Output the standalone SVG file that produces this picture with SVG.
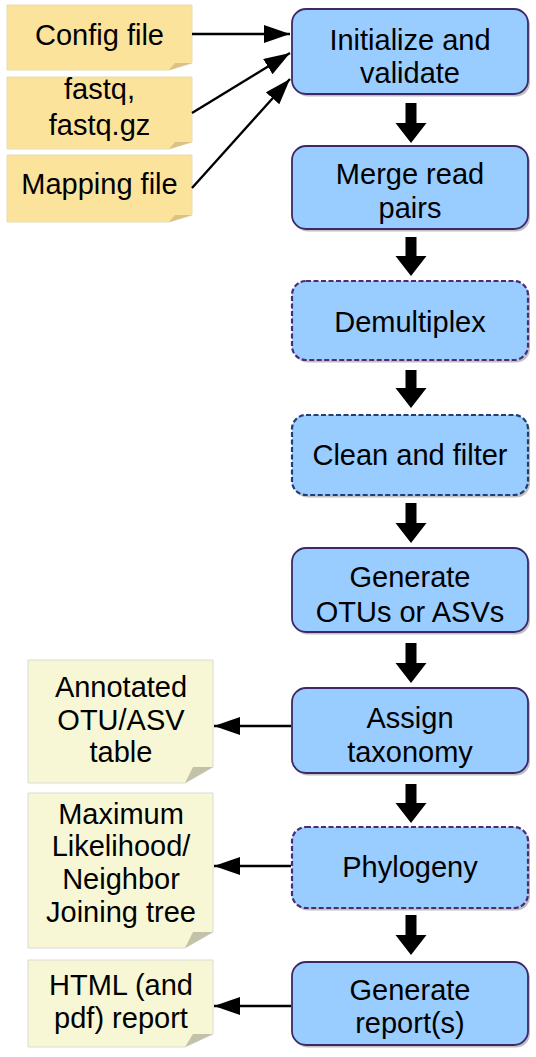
<svg xmlns="http://www.w3.org/2000/svg" width="536" height="1057" viewBox="0 0 536 1057">
<defs>
<marker id="ah" markerUnits="userSpaceOnUse" markerWidth="28" markerHeight="20" refX="26" refY="9" orient="auto">
<path d="M0,0 L26,9 L0,18 Z" fill="#000"/>
</marker>
</defs>
<style>
text{font-family:"Liberation Sans",Arial,sans-serif;font-size:29px;fill:#000;text-anchor:middle}
.box{fill:#99CCFF;stroke:#3F2868;stroke-width:1.8}
.dp{stroke:#4B2C7A;stroke-width:2.2;stroke-dasharray:5 2.5}
.db{stroke:#1F3F78;stroke-width:2.2;stroke-dasharray:5 2.5}
.sh{fill:#8c8c8c;opacity:0.55}
.ny{fill:#FBE39C;stroke:#E6DCB4;stroke-width:1}
.nl{fill:#F8F7D5;stroke:#D6DCD4;stroke-width:1}
.fy{fill:#D9C283}
.fl{fill:#C3C2A8}
.ln{stroke:#000;stroke-width:2.4;fill:none;marker-end:url(#ah)}
.ba{fill:#000}
</style>

<g id="in-config">
<path class="ny" d="M7,5 H192 V63 L169,70 H7 Z"/>
<path class="fy" d="M169,70 L175,63 H192 Z"/>
<text x="99.5" y="45">Config file</text>
</g>
<g id="in-fastq">
<path class="ny" d="M7,77 H192 V142 L169,149 H7 Z"/>
<path class="fy" d="M169,149 L175,142 H192 Z"/>
<text x="99.5" y="99">fastq,</text>
<text x="99.5" y="135">fastq.gz</text>
</g>
<g id="in-mapping">
<path class="ny" d="M7,155 H192 V215 L169,222 H7 Z"/>
<path class="fy" d="M169,222 L175,215 H192 Z"/>
<text x="99.5" y="194">Mapping file</text>
</g>

<g id="n-init">
<rect class="sh" x="294" y="11.5" width="236" height="85" rx="14"/>
<rect class="box" x="292" y="9" width="236" height="85" rx="14"/>
<text x="410" y="50">Initialize and</text>
<text x="410" y="83">validate</text>
</g>
<g id="n-merge">
<rect class="sh" x="294" y="148.5" width="236" height="83" rx="14"/>
<rect class="box" x="292" y="146" width="236" height="83" rx="14"/>
<text x="410" y="184">Merge read</text>
<text x="410" y="218">pairs</text>
</g>
<g id="n-demux">
<rect class="sh" x="294" y="283.5" width="236" height="79" rx="14"/>
<rect class="box dp" x="292" y="281" width="236" height="79" rx="14"/>
<text x="410" y="332">Demultiplex</text>
</g>
<g id="n-clean">
<rect class="sh" x="294" y="417.5" width="236" height="80" rx="14"/>
<rect class="box db" x="292" y="415" width="236" height="80" rx="14"/>
<text x="410" y="465">Clean and filter</text>
</g>
<g id="n-otu">
<rect class="sh" x="294" y="550.5" width="236" height="84" rx="14"/>
<rect class="box" x="292" y="548" width="236" height="84" rx="14"/>
<text x="410" y="587">Generate</text>
<text x="410" y="622">OTUs or ASVs</text>
</g>
<g id="n-assign">
<rect class="sh" x="294" y="690.5" width="236" height="85" rx="14"/>
<rect class="box" x="292" y="688" width="236" height="85" rx="14"/>
<text x="410" y="728">Assign</text>
<text x="410" y="762">taxonomy</text>
</g>
<g id="n-phylo">
<rect class="sh" x="294" y="829.5" width="236" height="81" rx="14"/>
<rect class="box dp" x="292" y="827" width="236" height="81" rx="14"/>
<text x="410" y="877">Phylogeny</text>
</g>
<g id="n-report">
<rect class="sh" x="294" y="964.5" width="236" height="83" rx="14"/>
<rect class="box" x="292" y="962" width="236" height="83" rx="14"/>
<text x="410" y="1000">Generate</text>
<text x="410" y="1033">report(s)</text>
</g>

<g id="out-table">
<path class="nl" d="M28,660 H213 V767 L185,783 H28 Z"/>
<path class="fl" d="M185,783 L193,767 H213 Z"/>
<text x="121" y="697">Annotated</text>
<text x="121" y="730">OTU/ASV</text>
<text x="121" y="762">table</text>
</g>
<g id="out-tree">
<path class="nl" d="M28,793 H213 V932 L185,948 H28 Z"/>
<path class="fl" d="M185,948 L193,932 H213 Z"/>
<text x="121" y="824">Maximum</text>
<text x="121" y="856">Likelihood/</text>
<text x="121" y="889">Neighbor</text>
<text x="121" y="922">Joining tree</text>
</g>
<g id="out-report">
<path class="nl" d="M28,960 H213 V1034 L185,1047 H28 Z"/>
<path class="fl" d="M185,1047 L193,1034 H213 Z"/>
<text x="121" y="995">HTML (and</text>
<text x="121" y="1028">pdf) report</text>
</g>

<g id="connectors">
<line class="ln" x1="192" y1="34" x2="290" y2="34"/>
<line class="ln" x1="192" y1="113" x2="290" y2="53"/>
<line class="ln" x1="192" y1="188" x2="290" y2="79"/>
<line class="ln" x1="291" y1="726" x2="214" y2="726"/>
<line class="ln" x1="291" y1="866" x2="214" y2="866"/>
<line class="ln" x1="291" y1="1006" x2="214" y2="1006"/>
<path class="ba" d="M405.5,103 H416.5 V123 H426.5 L411,143 L395.5,123 H405.5 Z"/>
<path class="ba" d="M405.5,237 H416.5 V256 H426.5 L411,276 L395.5,256 H405.5 Z"/>
<path class="ba" d="M405.5,370 H416.5 V388 H426.5 L411,408 L395.5,388 H405.5 Z"/>
<path class="ba" d="M405.5,503 H416.5 V523 H426.5 L411,543 L395.5,523 H405.5 Z"/>
<path class="ba" d="M405.5,643 H416.5 V663 H426.5 L411,683 L395.5,663 H405.5 Z"/>
<path class="ba" d="M405.5,784 H416.5 V803 H426.5 L411,823 L395.5,803 H405.5 Z"/>
<path class="ba" d="M405.5,915 H416.5 V935 H426.5 L411,955 L395.5,935 H405.5 Z"/>
</g>
</svg>
